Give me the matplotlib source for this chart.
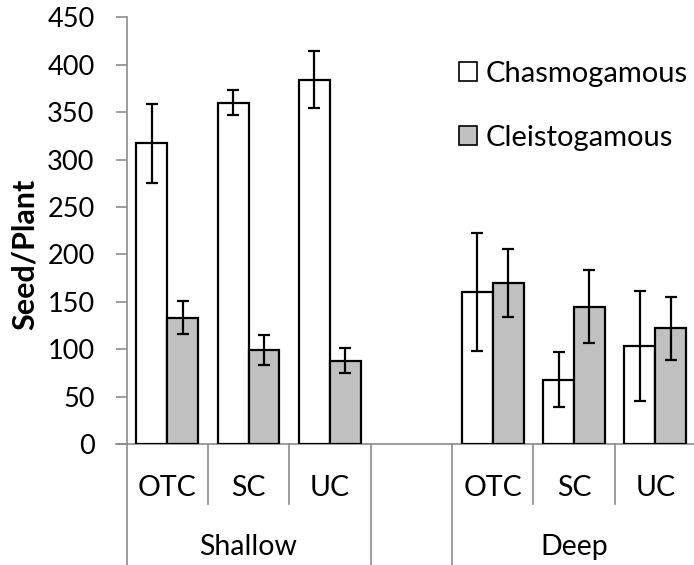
"""
- seed production per plant for chasmogamous and cleistogamous flowers
- two depths (Shallow, Deep) x three treatments (OTC, SC, UC)
"""
import matplotlib

matplotlib.use("Agg")
import matplotlib.pyplot as plt
import matplotlib.transforms as mtransforms
import numpy as np
from matplotlib.patches import Patch

plt.rcParams["font.family"] = ["Lato", "DejaVu Sans"]

treatments = ["OTC", "SC", "UC"]
groups = ["Shallow", "Deep"]
series = ["Chasmogamous", "Cleistogamous"]

chasmo_mean = [317, 360, 384, 160, 68, 103]
chasmo_err = [42, 13.5, 30, 62, 29, 58]
cleisto_mean = [133, 99, 88, 170, 145, 122]
cleisto_err = [17.5, 16, 13, 36, 39, 33]

AXIS_GREY = "#8c8c8c"

fig = plt.figure(figsize=(6.94, 5.65), dpi=100)
W, H = 694, 565
x0, x1, y0, y1 = 126.5, 696, 444, 17.3
ax = fig.add_axes([x0 / W, (H - y0) / H, (x1 - x0) / W, (y0 - y1) / H])

# slot positions: three treatments, one empty slot, three treatments
slots = np.array([0, 1, 2, 4, 5, 6])
width = 0.38
err_kw = dict(ecolor="black", elinewidth=1.6, capsize=4.2, capthick=1.6)
ax.bar(slots + 0.5 - width / 2, chasmo_mean, width, color="white",
       edgecolor="black", linewidth=1.6, yerr=chasmo_err, error_kw=err_kw,
       zorder=3)
ax.bar(slots + 0.5 + width / 2, cleisto_mean, width, color="#c0c0c0",
       edgecolor="black", linewidth=1.6, yerr=cleisto_err, error_kw=err_kw,
       zorder=3)

ax.set_xlim(0, 7)
ax.set_ylim(0, 450)
ax.set_yticks(np.arange(0, 451, 50))
ax.tick_params(axis="y", direction="out", length=8, width=1.2,
               color=AXIS_GREY, labelsize=19.5, pad=15)
ax.set_xticks([])
for side in ["top", "right"]:
    ax.spines[side].set_visible(False)
for side in ["left", "bottom"]:
    ax.spines[side].set_color(AXIS_GREY)
    ax.spines[side].set_linewidth(1.2)

fig.text(25 / W, 1 - 254 / H, "Seed/Plant", rotation=90, fontsize=22,
         fontweight="bold", ha="center", va="center")

# two-level category axis below the plot
trans = mtransforms.blended_transform_factory(ax.transData, fig.transFigure)
fy = lambda py: (H - py) / H
ax.plot([-0.13, 0], [fy(y0), fy(y0)], transform=trans, color=AXIS_GREY,
        lw=1.2, clip_on=False)
for s in [1, 2, 5, 6]:
    ax.plot([s, s], [fy(y0), fy(504)], transform=trans, color=AXIS_GREY,
            lw=1.2, clip_on=False)
for s in [0, 3, 4, 7]:
    ax.plot([s, s], [fy(y0), 0], transform=trans, color=AXIS_GREY,
            lw=1.2, clip_on=False)
for i, s in enumerate(slots):
    ax.text(s + 0.5, fy(488), treatments[i % 3], transform=trans,
            ha="center", va="center", fontsize=20.5)
for g, c in zip(groups, [1.5, 5.5]):
    ax.text(c, fy(547), g, transform=trans, ha="center", va="center",
            fontsize=20.5)

handles = [Patch(facecolor="white", edgecolor="black", linewidth=1.2),
           Patch(facecolor="#c0c0c0", edgecolor="black", linewidth=1.2)]
fig.legend(handles, series, loc="upper left",
           bbox_to_anchor=(459 / W, 1 - 61 / H), frameon=False, fontsize=21,
           handlelength=0.62, handleheight=0.62, handletextpad=0.3,
           labelspacing=1.3, borderpad=0, borderaxespad=0)

fig.savefig("out.png", dpi=100)
